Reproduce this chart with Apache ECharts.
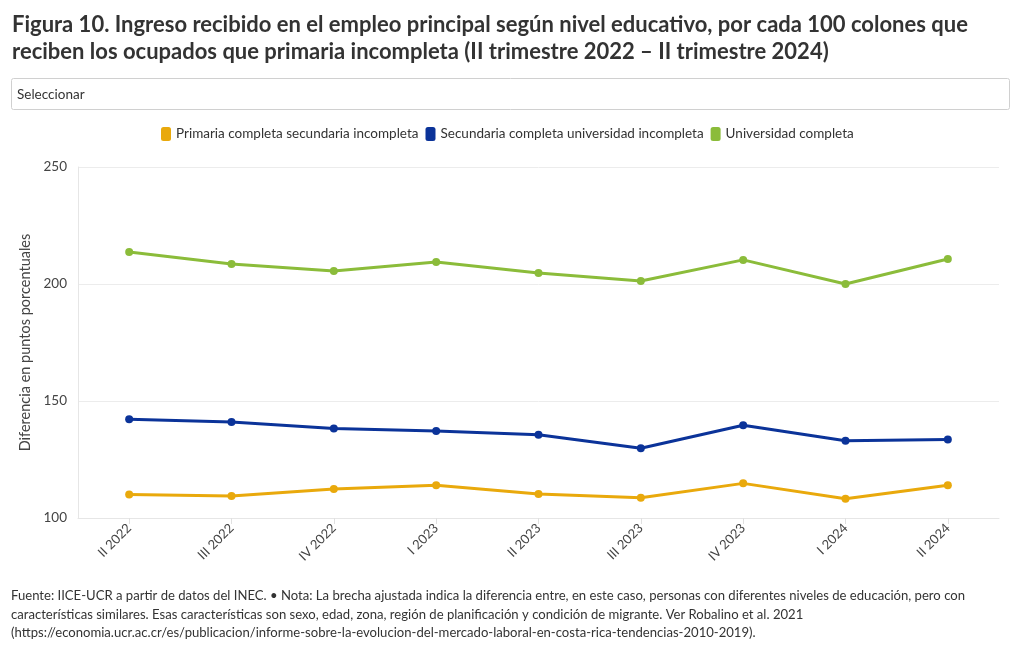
<!DOCTYPE html>
<html>
<head>
<meta charset="utf-8">
<script src="https://cdn.jsdelivr.net/npm/echarts@6/dist/echarts.min.js"></script>
<style>
html,body{margin:0;padding:0;background:#fff;}
#chart{width:1020px;height:650px;}
</style>
</head>
<body>
<div id="chart"></div>
<script>
const categories = ['II 2022','III 2022','IV 2022','I 2023','II 2023','III 2023','IV 2023','I 2024','II 2024'];
const primariaCompleta = [110.0, 109.4, 112.4, 114.0, 110.3, 108.7, 114.8, 108.2, 114.0];
const secundariaCompleta = [142.2, 141.0, 138.2, 137.2, 135.6, 129.8, 139.6, 133.0, 133.6];
const universidadCompleta = [213.7, 208.5, 205.6, 209.4, 204.7, 201.3, 210.3, 200.0, 210.7];
const seriesNames = ['Primaria completa secundaria incompleta','Secundaria completa universidad incompleta','Universidad completa'];
const yTicks = {min: 100, max: 250, interval: 50};

const titleFont = "Lato, 'Open Sans', sans-serif";
const bodyFont = "Lato, 'Open Sans', sans-serif";
const colors = ['#E9A90C', '#0B3399', '#8BBC3A'];

const chart = echarts.init(document.getElementById('chart'));
const mk = (name, data, color) => ({
  name, type: 'line', data,
  symbol: 'circle', symbolSize: 8,
  lineStyle: {width: 3, color},
  itemStyle: {color},
  emphasis: {disabled: true}
});
chart.setOption({
  animation: false,
  color: colors,
  title: {
    text: 'Figura 10. Ingreso recibido en el empleo principal según nivel educativo, por cada 100 colones que\nreciben los ocupados que primaria incompleta (II trimestre 2022 – II trimestre 2024)',
    left: 7, top: 6,
    textStyle: {fontFamily: titleFont, fontWeight: 'bold', fontSize: 22, color: '#333', lineHeight: 27}
  },
  legend: {
    data: seriesNames,
    top: 122, left: 156,
    icon: 'roundRect', itemWidth: 10, itemHeight: 14, itemGap: 7, itemTextGap: 4,
    textStyle: {fontFamily: bodyFont, fontSize: 13.5, color: '#333'}
  },
  graphic: [
    {type: 'rect', left: 11, top: 78, shape: {width: 998, height: 31, r: 2},
     style: {fill: '#fff', stroke: '#d0d0d0', lineWidth: 1}},
    {type: 'text', left: 17, top: 88, style: {text: 'Seleccionar', font: "13.5px " + bodyFont, fill: '#333'}},
    {type: 'text', left: 11, top: 587, style: {
      text: 'Fuente: IICE-UCR a partir de datos del INEC. • Nota: La brecha ajustada indica la diferencia entre, en este caso, personas con diferentes niveles de educación, pero con\ncaracterísticas similares. Esas características son sexo, edad, zona, región de planificación y condición de migrante. Ver Robalino et al. 2021\n(https://economia.ucr.ac.cr/es/publicacion/informe-sobre-la-evolucion-del-mercado-laboral-en-costa-rica-tendencias-2010-2019).',
      font: "13.1px " + bodyFont, fill: '#333', lineHeight: 18.5}}
  ],
  grid: {left: 78, right: 21, top: 167, bottom: 132, containLabel: false},
  xAxis: {
    type: 'category', data: categories, boundaryGap: true,
    axisLine: {show: true, lineStyle: {color: '#e6e6e6'}},
    axisTick: {show: true, alignWithLabel: true, length: 6, lineStyle: {color: '#e0e0e0'}},
    axisLabel: {rotate: 45, fontFamily: bodyFont, fontSize: 13, color: '#444', margin: 8},
    splitLine: {show: false}
  },
  yAxis: {
    type: 'value', min: yTicks.min, max: yTicks.max, interval: yTicks.interval,
    name: 'Diferencia en puntos porcentuales', nameLocation: 'middle', nameGap: 40,
    nameTextStyle: {fontFamily: bodyFont, fontSize: 14.5, color: '#444'},
    axisLine: {show: true, lineStyle: {color: '#e6e6e6'}},
    axisTick: {show: false},
    axisLabel: {fontFamily: bodyFont, fontSize: 13.5, color: '#444', margin: 11},
    splitLine: {lineStyle: {color: '#ececec'}}
  },
  series: [
    mk(seriesNames[0], primariaCompleta, colors[0]),
    mk(seriesNames[1], secundariaCompleta, colors[1]),
    mk(seriesNames[2], universidadCompleta, colors[2])
  ]
});
</script>
</body>
</html>
